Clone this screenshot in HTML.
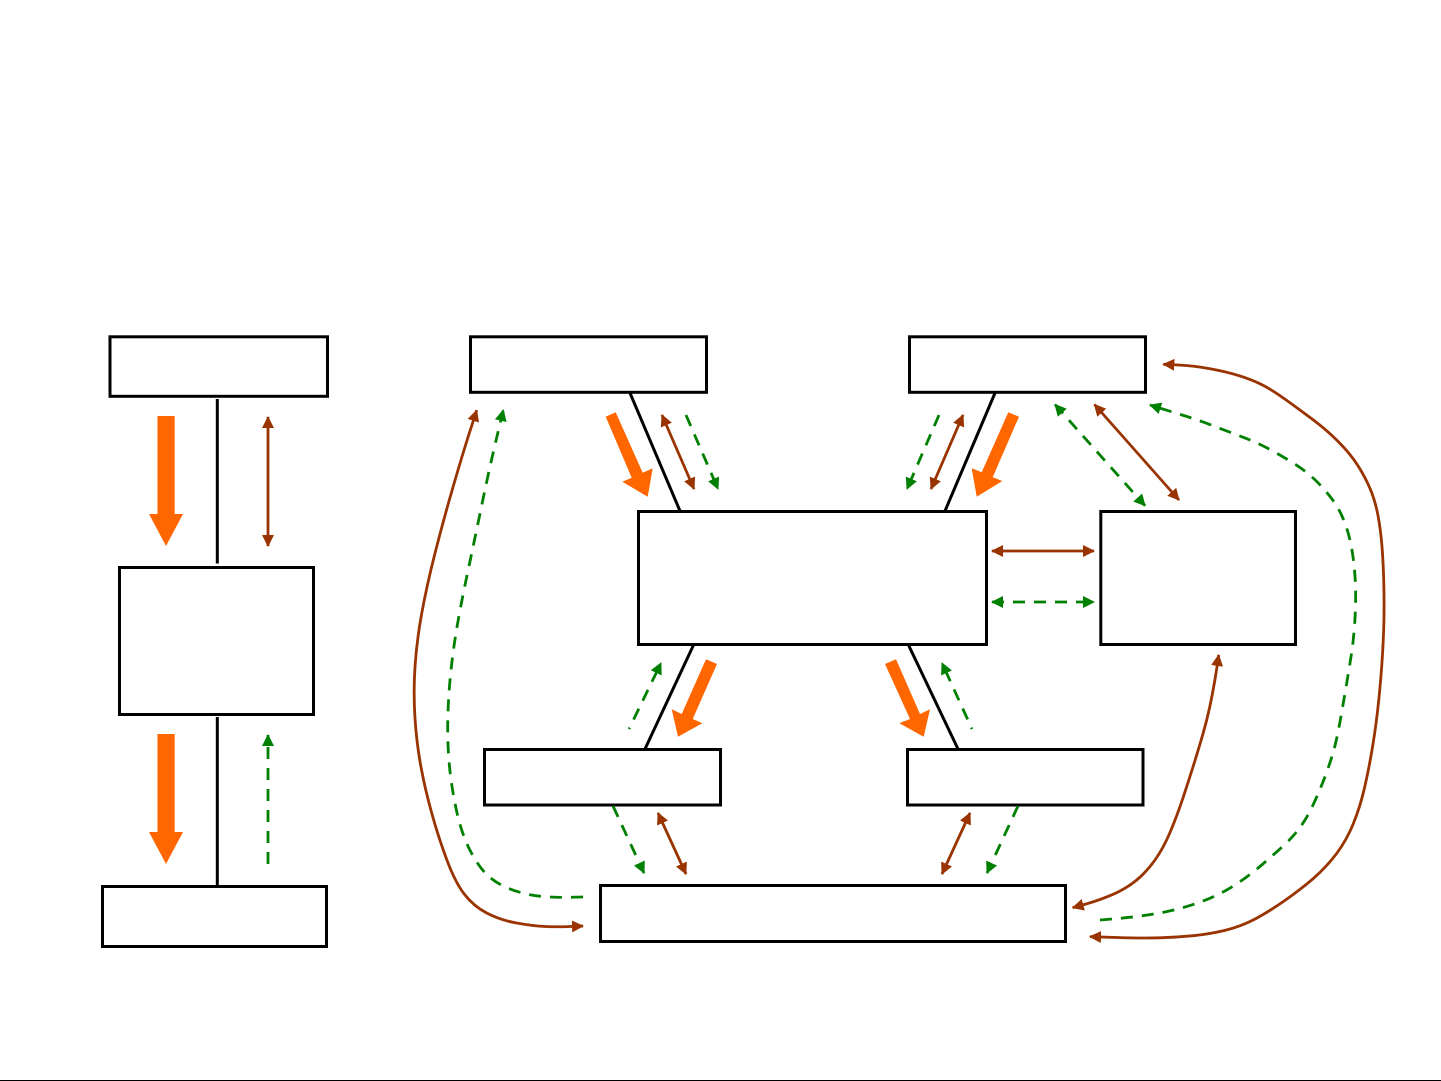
<!DOCTYPE html>
<html><head><meta charset="utf-8"><style>html,body{margin:0;padding:0;background:#fff}svg{display:block}</style></head>
<body>
<svg width="1441" height="1081" viewBox="0 0 1441 1081" xmlns="http://www.w3.org/2000/svg">
<defs>
<marker id="b" markerUnits="userSpaceOnUse" markerWidth="14" markerHeight="14" refX="11" refY="6" orient="auto-start-reverse"><path d="M0 0L12 6L0 12Z" fill="#993300"/></marker>
<marker id="g" markerUnits="userSpaceOnUse" markerWidth="14" markerHeight="14" refX="11" refY="6" orient="auto-start-reverse"><path d="M0 0L12 6L0 12Z" fill="#008000"/></marker>
</defs>
<rect width="1441" height="1081" fill="#fff"/>
<g fill="none" stroke="#000" stroke-width="3">
<rect x="110" y="336.8" width="217.5" height="59.5"/>
<rect x="119.5" y="567.5" width="194" height="147"/>
<rect x="102.5" y="886.5" width="224" height="60"/>
<rect x="470.5" y="336.8" width="236" height="55.5"/>
<rect x="909.5" y="336.8" width="236" height="55.5"/>
<rect x="638.5" y="511.5" width="348" height="133"/>
<rect x="1100.8" y="511.5" width="194.7" height="133"/>
<rect x="484.5" y="749.5" width="236" height="55.5"/>
<rect x="907.5" y="749.5" width="235.5" height="55.5"/>
<rect x="600.5" y="885.5" width="465" height="56"/>
<path d="M217.3 399V563.5M217.3 717V885M630 393L680 511M995 393L945 511M694 644L645 749M908 644L958 749"/>
</g>
<g fill="#ff6600">
<polygon points="157.5,416 174.7,416 174.7,514 183,514 166,546 149,514 157.5,514"/>
<polygon points="157.5,734 174.7,734 174.7,832 183,832 166,864 149,832 157.5,832"/>
<polygon points="605.7,416.7 615.7,412.3 642.7,472.7 652.7,468.3 647.7,496.7 622.3,481.7 631.7,477.7"/>
<polygon points="1008.3,412.3 1019,416.7 992.7,477.3 1002.3,481 976.7,496.7 971.7,468.3 981.7,472.3"/>
<polygon points="706,659.3 717,664 692.7,719 702.3,723.3 678,736.7 671.7,709.3 681.7,714"/>
<polygon points="885,664 896,659.3 920,714 930,709.3 923.7,736.7 899.3,723.3 910,719"/>
</g>
<g fill="none" stroke="#993300" stroke-width="2.8" stroke-linejoin="round" marker-start="url(#b)" marker-end="url(#b)">
<path d="M268 417V546"/>
<path d="M662 415L694 489"/>
<path d="M963 415L931 489"/>
<path d="M658 813L686 874"/>
<path d="M970 813L942 874"/>
<path d="M992 551H1094"/>
<path d="M1094.5 404.5L1179 500"/>
<path d="M476.7 410.3L470 431Q463.3 451.7 453.3 486.1Q443.3 520.5 435 553.2Q426.7 586 421.7 613.5Q416.7 641 415 666.9Q413.3 692.7 415 718.4Q416.7 744 420.9 766.5Q425 789 431.7 813Q438.3 837 446.7 859.5Q455 882 464.2 894Q473.3 906 486.7 913Q500 920 516.5 923Q533 926 545.5 926.5Q558 927 570.5 926.5L583 926"/>
<path d="M1163.3 364.3L1178.3 365Q1193.3 365.7 1210 368.7Q1226.7 371.7 1239.9 375.9Q1253 380 1263.2 385.4Q1273.3 390.7 1286.7 400.4Q1300 410 1313.4 420Q1326.7 430 1338.4 441.7Q1350 453.3 1357.5 465Q1365 476.7 1370 488.4Q1375 500 1377.9 515Q1380.7 530 1382 546.5Q1383.3 563 1383.8 583Q1384.3 603 1383.9 621.5Q1383.5 640 1381.8 665Q1380 690 1377.5 711.5Q1375 733 1371.5 753Q1368 773 1364 790Q1360 807 1353.4 823.5Q1346.7 840 1336.7 853.4Q1326.7 866.7 1313.4 878.4Q1300 890 1283.4 901.5Q1266.7 913 1253.4 919.9Q1240 926.7 1225 930.4Q1210 934 1193.4 935.7Q1176.7 937.3 1159.9 937.8Q1143 938.3 1116.5 937.5L1090 936.7"/>
<path d="M1072.7 907.7L1086.4 903.9Q1100 900 1113.4 894.2Q1126.7 888.3 1136.7 880Q1146.7 871.7 1155 860Q1163.3 848.3 1170 832.5Q1176.7 816.7 1183.4 796.7Q1190 776.7 1196.7 755Q1203.3 733.3 1206.7 720Q1210 706.7 1212.5 693.4Q1215 680 1216.9 667.5L1218.7 655"/>
</g>
<g fill="none" stroke="#008000" stroke-width="2.8" stroke-linejoin="round" stroke-dasharray="12 9">
<path d="M268 864V735" marker-end="url(#g)"/>
<path d="M686 415L718 489" marker-end="url(#g)"/>
<path d="M939 415L907 489" marker-end="url(#g)"/>
<path d="M629 729L661 663" stroke-dashoffset="10.5" marker-end="url(#g)"/>
<path d="M972 729L942 663" stroke-dashoffset="10.5" marker-end="url(#g)"/>
<path d="M613 806L644 873" marker-end="url(#g)"/>
<path d="M1018 806L987 873" marker-end="url(#g)"/>
<path d="M992 602H1094" marker-start="url(#g)" marker-end="url(#g)"/>
<path d="M1055 404.5L1145 505.7" marker-start="url(#g)" marker-end="url(#g)"/>
<path d="M583 897L566.5 897.3Q550 897.6 536.5 895.8Q523 894 509.9 888.9Q496.7 883.8 487.5 875.2Q478.3 866.6 470 850.3Q461.7 834 456.7 811.5Q451.7 789 449.5 766.5Q447.3 744 447.8 720Q448.3 696 450.8 672Q453.3 648 457.5 624Q461.7 600 468.4 568.9Q475 537.7 482.5 501.6Q490 465.4 496.7 437.7L503.3 410" marker-end="url(#g)"/>
<path d="M1100 920L1115.9 918.7Q1131.7 917.3 1147.5 915Q1163.3 912.7 1178.3 908.9Q1193.3 905 1208.3 898.9Q1223.3 892.7 1236.7 883.9Q1250 875 1261.7 865Q1273.3 855 1283.3 845.9Q1293.3 836.7 1300 827.5Q1306.7 818.3 1313.4 804.2Q1320 790 1325 776.7Q1330 763.3 1333.4 751.7Q1336.7 740 1340 721.7Q1343.3 703.3 1346.7 683.3Q1350 663.3 1351.8 651.7Q1353.5 640 1354.8 621.7Q1356 603.3 1355.5 586.7Q1355 570 1352.5 553.4Q1350 536.7 1345 523.4Q1340 510 1333.4 500.9Q1326.7 491.7 1317 481.7Q1306.7 471.7 1295 464.2Q1283.3 456.7 1271.7 450.4Q1260 444 1250 440Q1240 436 1220 428.4Q1200 420.7 1190 417.5Q1180 414.3 1165 409.7L1150 405" marker-end="url(#g)"/>
</g>
<rect x="0" y="1080" width="1441" height="1" fill="#000"/>
</svg>
</body></html>
